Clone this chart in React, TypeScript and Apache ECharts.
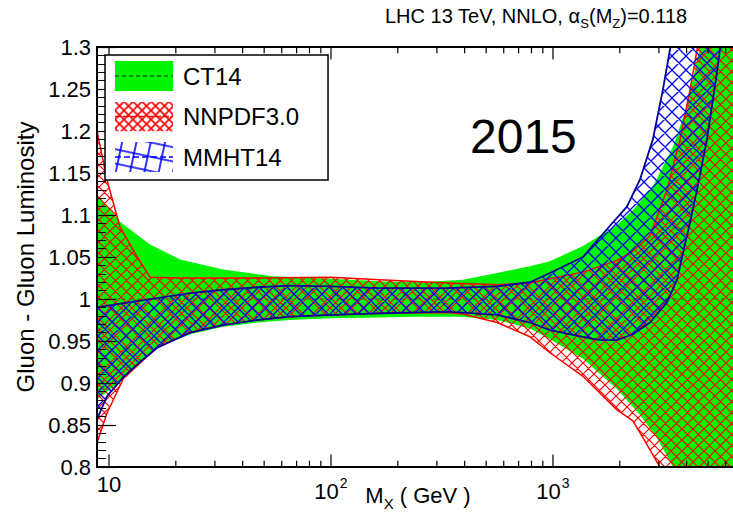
import React, { useEffect, useRef } from 'react';
import * as echarts from 'echarts';

// ---------- data (M_X in GeV, luminosity ratio) ----------
const ct14UpperMass = [8.83, 11.2, 15.3, 20.9, 32.7, 54.8, 100, 166, 250, 393, 560, 788, 969, 1365, 1942, 2291, 2818, 3470, 4015, 4596, 7000];
const ct14Upper = [1.125, 1.092, 1.065, 1.047, 1.035, 1.027, 1.024, 1.021, 1.020, 1.023, 1.031, 1.039, 1.045, 1.063, 1.088, 1.106, 1.134, 1.181, 1.230, 1.300, 1.600];
const ct14LowerMass = [8.83, 11.6, 13.8, 16.5, 23.2, 32.7, 46.4, 65.3, 100, 166, 234, 393, 560, 788, 969, 1365, 1942, 2464, 2938, 3470, 7000];
const ct14Lower = [0.880, 0.905, 0.925, 0.942, 0.958, 0.967, 0.972, 0.975, 0.977, 0.978, 0.979, 0.979, 0.975, 0.965, 0.952, 0.929, 0.893, 0.862, 0.835, 0.800, 0.500];
const ct14CentralMass = [8.83, 7000];
const ct14Central = [1.0, 1.0];

const nnpdfUpperMass = [8.83, 9.79, 11.2, 13.4, 15.3, 20.9, 46.4, 100, 166, 333, 560, 788, 969, 1365, 1942, 2291, 2734, 3264, 3735, 4143, 4455, 7000];
const nnpdfUpper = [1.200, 1.142, 1.086, 1.050, 1.026, 1.025, 1.025, 1.026, 1.023, 1.019, 1.017, 1.019, 1.024, 1.032, 1.046, 1.057, 1.075, 1.130, 1.190, 1.249, 1.297, 1.700];
const nnpdfLowerMass = [8.83, 9.79, 11.6, 16.5, 23.2, 32.7, 46.4, 65.3, 100, 166, 333, 393, 560, 788, 969, 1365, 1942, 2291, 2541, 3030, 7000];
const nnpdfLower = [0.829, 0.864, 0.905, 0.943, 0.960, 0.969, 0.975, 0.979, 0.981, 0.983, 0.984, 0.982, 0.972, 0.955, 0.936, 0.908, 0.868, 0.855, 0.835, 0.800, 0.300];

const mmhtUpperMass = [8.83, 11.6, 16.5, 23.2, 32.7, 46.4, 65.3, 100, 166, 333, 560, 788, 969, 1365, 1750, 2153, 2464, 2818, 3126, 3366, 3600];
const mmhtUpper = [0.990, 0.995, 1.001, 1.007, 1.011, 1.014, 1.016, 1.015, 1.013, 1.013, 1.015, 1.020, 1.031, 1.050, 1.083, 1.110, 1.142, 1.190, 1.249, 1.297, 1.340];
const mmhtLowerMass = [8.83, 9.79, 11.6, 13.8, 16.5, 23.2, 32.7, 46.4, 65.3, 100, 166, 333, 560, 788, 969, 1365, 1628, 1942, 2291, 2734, 3264, 3620, 3852, 4143, 4455, 4939, 5480, 5653, 5900];
const mmhtLower = [0.857, 0.884, 0.907, 0.925, 0.942, 0.960, 0.969, 0.975, 0.979, 0.981, 0.983, 0.985, 0.981, 0.972, 0.963, 0.955, 0.951, 0.951, 0.958, 0.972, 0.996, 1.023, 1.055, 1.091, 1.130, 1.190, 1.270, 1.297, 1.340];

const xMajorTicks = [10, 100, 1000];
const xMinorTicks = [20, 30, 40, 50, 60, 70, 80, 90, 200, 300, 400, 500, 600, 700, 800, 900, 2000, 3000, 4000, 5000, 6000];
const xMin = 8.83;
const xMax = 6470;
const yMin = 0.8;
const yMax = 1.3;
const yStep = 0.05;

const seriesNames = ['CT14', 'NNPDF3.0', 'MMHT14'];
const titleText = '{b|LHC 13 TeV, NNLO, α}{s|S}{b|(M}{s|Z}{b|)=0.118}';
const yAxisTitle = 'Gluon - Gluon Luminosity';
const xAxisTitle = '{b|M}{s|X}{b| ( GeV )}';
const yearText = '2015';

// ---------- styles ----------
const FONT = "'Liberation Sans', Arial, Helvetica, sans-serif";
const GREEN = '#00f400';
const RED = '#ff0000';
const BLUE = '#0000ff';

const svgUrl = (s: string) => 'data:image/svg+xml;charset=utf-8,' + encodeURIComponent(s);

function crossPath(P: number) {
  return `M0,0L${P},${P}M${P},0L0,${P}M${-P},0L${P},${2 * P}M0,${-P}L${2 * P},${P}M${-P},${P}L${P},${-P}M0,${2 * P}L${2 * P},0`;
}
function crossTile(P: number, color: string, w: number) {
  return `<svg xmlns="http://www.w3.org/2000/svg" width="${P}" height="${P}"><path d="${crossPath(P)}" stroke="${color}" stroke-width="${w}" fill="none"/></svg>`;
}
function hatchPattern(P: number, color: string, w: number) {
  return { image: svgUrl(crossTile(P, color, w)), repeat: 'repeat', imageWidth: P, imageHeight: P };
}

function legendIcon(kind: string) {
  let body = '';
  if (kind === 'ct') {
    body = `<rect width="58" height="30" fill="${GREEN}"/><line x1="0" y1="15" x2="58" y2="15" stroke="#222" stroke-width="1.2" stroke-dasharray="4 3"/>`;
  } else if (kind === 'nn') {
    body = `<defs><pattern id="p" width="9" height="9" patternUnits="userSpaceOnUse"><path d="${crossPath(9)}" stroke="${RED}" stroke-width="1.6" fill="none"/></pattern></defs><rect width="58" height="30" fill="url(#p)"/><line x1="0" y1="15" x2="58" y2="15" stroke="${RED}" stroke-width="1.6" stroke-dasharray="6 2"/>`;
  } else {
    body = `<defs><pattern id="q" width="14" height="14" patternUnits="userSpaceOnUse" patternTransform="rotate(12)"><path d="M0,7H14M7,0V14" stroke="${BLUE}" stroke-width="1.6" fill="none"/></pattern></defs><rect width="58" height="30" fill="url(#q)"/><line x1="0" y1="15" x2="58" y2="15" stroke="${BLUE}" stroke-width="1.6" stroke-dasharray="6 3"/>`;
  }
  return 'image://' + svgUrl(`<svg xmlns="http://www.w3.org/2000/svg" width="58" height="30">${body}</svg>`);
}

function bandSeries(name: string, uM: number[], uV: number[], lM: number[], lV: number[], fill: any, stroke: string | null, lw: number, z: number) {
  const pts = uM.map((m, i) => [m, uV[i]]).concat(lM.map((m, i) => [m, lV[i]]).reverse());
  return {
    name,
    type: 'custom',
    coordinateSystem: 'cartesian2d',
    clip: true,
    silent: true,
    z,
    data: pts,
    encode: { x: 0, y: 1 },
    renderItem: (params: any, api: any) => {
      if (params.dataIndex !== 0) return null;
      return {
        type: 'polygon',
        shape: { points: pts.map((p) => api.coord(p)) },
        style: { fill, stroke: stroke || 'none', lineWidth: lw, lineJoin: 'round' },
      };
    },
  };
}

function tickSeries(masses: number[], len: number) {
  return {
    type: 'custom',
    coordinateSystem: 'cartesian2d',
    clip: false,
    silent: true,
    z: 6,
    data: masses.map((m) => [m, yMin]),
    encode: { x: 0, y: 1 },
    renderItem: (params: any, api: any) => {
      const b = api.coord([api.value(0), yMin]);
      const t = api.coord([api.value(0), yMax]);
      return {
        type: 'group',
        children: [
          { type: 'line', shape: { x1: b[0], y1: b[1], x2: b[0], y2: b[1] - len }, style: { stroke: '#000', lineWidth: 1.2 } },
          { type: 'line', shape: { x1: t[0], y1: t[1], x2: t[0], y2: t[1] + len }, style: { stroke: '#000', lineWidth: 1.2 } },
        ],
      };
    },
  };
}

function isPow10(v: number) {
  const l = Math.log10(v);
  return Math.abs(l - Math.round(l)) < 1e-6;
}

export default function App() {
  const ref = useRef<HTMLDivElement>(null);
  useEffect(() => {
    if (!ref.current) return;
    const chart = echarts.init(ref.current, null, { renderer: 'svg' });
    const option: any = {
      animation: false,
      backgroundColor: '#fff',
      title: {
        text: titleText,
        left: 380,
        top: 1,
        textStyle: {
          fontWeight: 'normal',
          rich: {
            b: { fontSize: 20, fontWeight: 'normal', fontFamily: FONT, color: '#000', verticalAlign: 'top', lineHeight: 22 },
            s: { fontSize: 13, fontWeight: 'normal', fontFamily: FONT, color: '#000', verticalAlign: 'top', lineHeight: 13, padding: [11, 0, 0, 0] },
          },
        },
      },
      grid: { left: 97, right: 0, top: 47, bottom: 54, containLabel: false, outerBoundsMode: 'none' },
      legend: {
        orient: 'vertical',
        left: 105,
        top: 55,
        padding: [6, 29, 8, 10],
        itemWidth: 58,
        itemHeight: 30,
        itemGap: 10.5,
        backgroundColor: '#fff',
        borderColor: '#000',
        borderWidth: 1.5,
        borderRadius: 0,
        selectedMode: false,
        z: 10,
        textStyle: { fontSize: 24, fontFamily: FONT, color: '#000', padding: [0, 0, 0, 5] },
        data: [
          { name: seriesNames[0], icon: legendIcon('ct') },
          { name: seriesNames[1], icon: legendIcon('nn') },
          { name: seriesNames[2], icon: legendIcon('mm') },
        ],
      },
      xAxis: [
        {
          type: 'log',
          logBase: 10,
          min: xMin,
          max: xMax,
          position: 'bottom',
          z: 5,
          axisLine: { show: true, lineStyle: { color: '#000', width: 2 } },
          axisTick: { show: false },
          splitLine: { show: false },
          axisLabel: {
            show: true,
            showMinLabel: false,
            showMaxLabel: false,
            margin: 6,
            formatter: (v: number) => {
              if (!isPow10(v)) return '';
              const e = Math.round(Math.log10(v));
              if (e === 1) return '{p|10}';
              return '{b|10}{sup|' + e + '}';
            },
            rich: {
              p: { fontSize: 22, fontFamily: FONT, color: '#000', lineHeight: 22 },
              b: { fontSize: 22, fontFamily: FONT, color: '#000', verticalAlign: 'top', lineHeight: 22, padding: [7, 0, 0, 0] },
              sup: { fontSize: 14, fontFamily: FONT, color: '#000', verticalAlign: 'top', lineHeight: 14, padding: [3, 0, 0, 1] },
            },
          },
          name: xAxisTitle,
          nameLocation: 'middle',
          nameGap: 17,
          nameMoveOverlap: false,
          nameTextStyle: {
            padding: [0, 0, 0, 6],
            rich: {
              b: { fontSize: 22, fontFamily: FONT, color: '#000', verticalAlign: 'top', lineHeight: 22 },
              s: { fontSize: 15, fontFamily: FONT, color: '#000', verticalAlign: 'top', lineHeight: 15, padding: [12, 0, 0, 0] },
            },
          },
        },
        {
          type: 'log',
          logBase: 10,
          min: xMin,
          max: xMax,
          position: 'top',
          z: 5,
          axisLine: { show: true, lineStyle: { color: '#000', width: 2 } },
          axisTick: { show: false },
          axisLabel: { show: false },
          splitLine: { show: false },
        },
      ],
      yAxis: {
        type: 'value',
        min: yMin,
        max: yMax,
        interval: yStep,
        z: 5,
        axisLine: { show: true, lineStyle: { color: '#000', width: 2 } },
        axisTick: { show: true, inside: true, length: 19, lineStyle: { color: '#000', width: 1.2 } },
        minorTick: { show: true, splitNumber: 5, length: 9, lineStyle: { color: '#000', width: 1 } },
        splitLine: { show: false },
        axisLabel: {
          margin: 6,
          fontSize: 22,
          fontFamily: FONT,
          color: '#000',
          formatter: (v: number) => String(parseFloat(v.toFixed(2))),
        },
        name: yAxisTitle,
        nameLocation: 'middle',
        nameRotate: 90,
        nameGap: 60,
        nameMoveOverlap: false,
        nameTextStyle: { fontSize: 24, fontFamily: FONT, color: '#000' },
      },
      graphic: [
        {
          type: 'text',
          left: 470,
          top: 112,
          z: 20,
          style: { text: yearText, fontSize: 48, fontFamily: FONT, fill: '#000' },
        },
      ],
      series: [
        bandSeries(seriesNames[0], ct14UpperMass, ct14Upper, ct14LowerMass, ct14Lower, GREEN, null, 0, 1),
        {
          name: 'CT14 central',
          type: 'line',
          z: 2,
          silent: true,
          showSymbol: false,
          clip: true,
          data: ct14CentralMass.map((m, i) => [m, ct14Central[i]]),
          lineStyle: { color: '#222', width: 1, type: [4, 4], opacity: 0.6 },
        },
        bandSeries(seriesNames[1], nnpdfUpperMass, nnpdfUpper, nnpdfLowerMass, nnpdfLower, hatchPattern(11, RED, 1.2), RED, 1.5, 3),
        bandSeries(seriesNames[2], mmhtUpperMass, mmhtUpper, mmhtLowerMass, mmhtLower, hatchPattern(14, BLUE, 1.3), '#000099', 1.8, 4),
        tickSeries(xMajorTicks, 12.6),
        tickSeries(xMinorTicks, 6.3),
      ],
    };
    chart.setOption(option);
    return () => chart.dispose();
  }, []);
  return <div ref={ref} style={{ position: 'absolute', left: 0, top: 0, width: 733, height: 521 }} />;
}
